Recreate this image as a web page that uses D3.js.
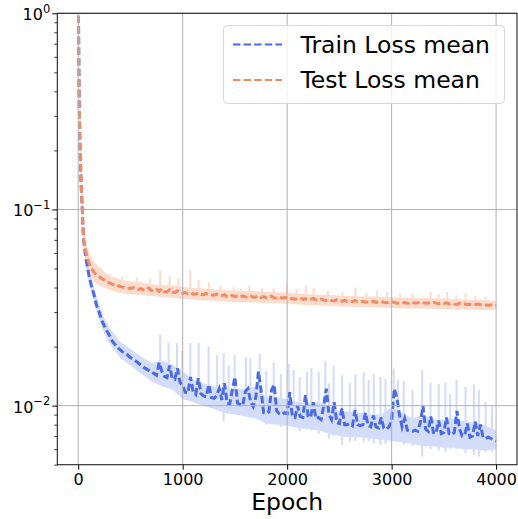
<!DOCTYPE html>
<html>
<head>
<meta charset="utf-8">
<script src="https://cdn.jsdelivr.net/npm/d3@7"></script>
<style>
  body { margin: 0; background: #fff; }
  svg { display: block; font-family: "DejaVu Sans", sans-serif; }
</style>
</head>
<body>
<div id="chart"></div>
<script>
const epochs = [0, 5, 10, 15, 20, 30, 40, 50, 60, 75].concat(d3.range(100, 4001, 25));

const trainMean = [
  1.6, 0.7, 0.34, 0.24, 0.18, 0.125, 0.098, 0.072, 0.064, 0.056,
  0.047, 0.041, 0.037, 0.0325, 0.0300, 0.0272, 0.0255, 0.0240,
  0.0228, 0.0214, 0.0206, 0.0198, 0.0193, 0.0188, 0.0184, 0.0181,
  0.0176, 0.0172, 0.0169, 0.0165, 0.0161, 0.0157, 0.0154, 0.0151,
  0.0148, 0.0146, 0.0143, 0.0166, 0.0150, 0.0141, 0.0139, 0.0160,
  0.0138, 0.0136, 0.0155, 0.0131, 0.0127, 0.0117, 0.0116, 0.0140,
  0.0118, 0.0114, 0.0138, 0.0115, 0.0112, 0.0111, 0.0128, 0.0110,
  0.0109, 0.0112, 0.0122, 0.0107, 0.0130, 0.0103, 0.0102, 0.0120,
  0.0140, 0.0103, 0.0101, 0.0100, 0.0118, 0.0122, 0.0105, 0.0099,
  0.0110, 0.0149, 0.0120, 0.0092, 0.0091, 0.0093, 0.0120, 0.0128,
  0.0094, 0.0091, 0.0090, 0.0092, 0.0091, 0.0117, 0.0088, 0.0087,
  0.0100, 0.0088, 0.0087, 0.0113, 0.0089, 0.0087, 0.0104, 0.0086,
  0.0087, 0.0085, 0.0100, 0.0122, 0.0090, 0.0085, 0.0104, 0.0082,
  0.0081, 0.0097, 0.0080, 0.0080, 0.0081, 0.0079, 0.0095, 0.0080,
  0.0079, 0.0080, 0.0092, 0.0079, 0.0078, 0.0089, 0.0078, 0.0077,
  0.0087, 0.0077, 0.0076, 0.0078, 0.0084, 0.0122, 0.0110, 0.0090,
  0.0078, 0.0086, 0.0075, 0.0074, 0.0074, 0.0075, 0.0074, 0.0082,
  0.0100, 0.0076, 0.0074, 0.0088, 0.0073, 0.0072, 0.0084, 0.0072,
  0.0073, 0.0087, 0.0072, 0.0071, 0.0073, 0.0094, 0.0076, 0.0070,
  0.0071, 0.0081, 0.0069, 0.0070, 0.0083, 0.0070, 0.0080, 0.0069,
  0.0068, 0.0069, 0.0068, 0.0067, 0.0066
];

const testMean = [
  1.6, 0.7, 0.35, 0.25, 0.19, 0.13, 0.10, 0.072, 0.066, 0.060,
  0.054, 0.050, 0.048, 0.0465, 0.0455, 0.0445, 0.0437, 0.0428,
  0.0422, 0.0416, 0.0410, 0.0412, 0.0405, 0.0402, 0.0400, 0.0398,
  0.0396, 0.0400, 0.0393, 0.0391, 0.0395, 0.0389, 0.0388, 0.0398,
  0.0386, 0.0384, 0.0392, 0.0383, 0.0395, 0.0381, 0.0380, 0.0390,
  0.0379, 0.0378, 0.0385, 0.0374, 0.0373, 0.0378, 0.0372, 0.0376,
  0.0371, 0.0370, 0.0375, 0.0369, 0.0368, 0.0373, 0.0367, 0.0366,
  0.0366, 0.0370, 0.0365, 0.0364, 0.0368, 0.0360, 0.0359, 0.0365,
  0.0359, 0.0362, 0.0358, 0.0363, 0.0358, 0.0357, 0.0362, 0.0357,
  0.0358, 0.0363, 0.0356, 0.0360, 0.0355, 0.0356, 0.0361, 0.0355,
  0.0354, 0.0357, 0.0353, 0.0356, 0.0355, 0.0350, 0.0352, 0.0349,
  0.0350, 0.0354, 0.0348, 0.0351, 0.0347, 0.0348, 0.0352, 0.0346,
  0.0346, 0.0349, 0.0345, 0.0344, 0.0347, 0.0343, 0.0342, 0.0346,
  0.0342, 0.0341, 0.0344, 0.0340, 0.0341, 0.0339, 0.0343, 0.0339,
  0.0338, 0.0340, 0.0337, 0.0338, 0.0337, 0.0341, 0.0336, 0.0338,
  0.0340, 0.0336, 0.0335, 0.0337, 0.0338, 0.0336, 0.0333, 0.0334,
  0.0333, 0.0335, 0.0333, 0.0332, 0.0336, 0.0333, 0.0334, 0.0338,
  0.0335, 0.0333, 0.0334, 0.0332, 0.0336, 0.0333, 0.0331, 0.0333,
  0.0332, 0.0334, 0.0330, 0.0331, 0.0329, 0.0328, 0.0332, 0.0329,
  0.0330, 0.0328, 0.0329, 0.0327, 0.0328, 0.0330, 0.0327, 0.0326,
  0.0326, 0.0325, 0.0326, 0.0325, 0.0324
];

// spread bands (min/max over runs), read at coarser epochs
const bandEpochs = [0, 10, 20, 30, 40, 50, 75, 100, 150, 200, 250, 300].concat(d3.range(400, 4001, 100));

const trainLo = [
  1.4, 0.32, 0.165, 0.115, 0.090, 0.066, 0.051, 0.043, 0.034, 0.0275, 0.0233, 0.0208,
  0.0176, 0.0160, 0.0146, 0.0133, 0.0126, 0.0121, 0.0108,
  0.0104, 0.0100, 0.0096, 0.0092, 0.0090, 0.0088, 0.0086, 0.0081, 0.0080, 0.0079,
  0.0077, 0.0076, 0.0075, 0.0072, 0.0070, 0.0069, 0.0069, 0.0068, 0.0067, 0.0066,
  0.0065, 0.0064, 0.0062, 0.0062, 0.0061, 0.0061, 0.0060, 0.0060, 0.0059, 0.0060
];
const trainHi = [
  1.8, 0.37, 0.195, 0.135, 0.106, 0.078, 0.061, 0.051, 0.040, 0.0328, 0.0280, 0.0250,
  0.0212, 0.0195, 0.0178, 0.0165, 0.0170, 0.0162, 0.0150,
  0.0135, 0.0130, 0.0125, 0.0122, 0.0120, 0.0122, 0.0125, 0.0110, 0.0110, 0.0108,
  0.0104, 0.0104, 0.0104, 0.0100, 0.0094, 0.0093, 0.0092, 0.0090, 0.0090, 0.0098,
  0.0092, 0.0086, 0.0090, 0.0085, 0.0085, 0.0086, 0.0083, 0.0082, 0.0079, 0.0075
];
const testLo = [
  1.4, 0.32, 0.17, 0.118, 0.090, 0.065, 0.054, 0.048, 0.043, 0.041, 0.040, 0.039,
  0.0375, 0.0370, 0.0365, 0.0362, 0.0358, 0.0355, 0.0350,
  0.0348, 0.0345, 0.0343, 0.0340, 0.0338, 0.0337, 0.0336, 0.0334, 0.0333, 0.0331,
  0.0328, 0.0326, 0.0324, 0.0322, 0.0321, 0.0320, 0.0318, 0.0317, 0.0316, 0.0315,
  0.0314, 0.0313, 0.0312, 0.0312, 0.0311, 0.0310, 0.0309, 0.0308, 0.0307, 0.0307
];
const testHi = [
  1.8, 0.38, 0.21, 0.145, 0.112, 0.082, 0.068, 0.061, 0.054, 0.051, 0.048, 0.046,
  0.0440, 0.0430, 0.0425, 0.0415, 0.0412, 0.0410, 0.0402,
  0.0398, 0.0395, 0.0392, 0.0388, 0.0385, 0.0384, 0.0383, 0.0380, 0.0378, 0.0377,
  0.0373, 0.0370, 0.0368, 0.0366, 0.0364, 0.0362, 0.0360, 0.0360, 0.0358, 0.0357,
  0.0355, 0.0354, 0.0354, 0.0353, 0.0352, 0.0350, 0.0348, 0.0347, 0.0345, 0.0343
];

// narrow excursions of the bands: [epoch, low, high]
const trainSpikes = [
  [785, 0.0130, 0.0230], [865, 0.0128, 0.0210], [945, 0.0125, 0.0208], [995, 0.0120, 0.0190],
  [1073, 0.0110, 0.0208], [1153, 0.0108, 0.0208], [1248, 0.0104, 0.0200], [1330, 0.0100, 0.0180],
  [1392, 0.0083, 0.0185], [1440, 0.0095, 0.0160], [1497, 0.0095, 0.0181], [1606, 0.0090, 0.0177],
  [1648, 0.0090, 0.0175], [1737, 0.0088, 0.0184], [1800, 0.0080, 0.0150], [1871, 0.0082, 0.0166],
  [1940, 0.0078, 0.0145], [2015, 0.0080, 0.0163], [2062, 0.0078, 0.0152], [2120, 0.0074, 0.0140],
  [2190, 0.0076, 0.0149], [2232, 0.0075, 0.0155], [2302, 0.0072, 0.0149], [2366, 0.0075, 0.0170],
  [2400, 0.0068, 0.0130], [2445, 0.0070, 0.0160], [2526, 0.0063, 0.0143], [2600, 0.0065, 0.0130],
  [2653, 0.0066, 0.0145], [2733, 0.0065, 0.0148], [2780, 0.0066, 0.0135], [2829, 0.0064, 0.0145],
  [2893, 0.0063, 0.0140], [2941, 0.0064, 0.0137], [3020, 0.0068, 0.0155], [3060, 0.0066, 0.0135],
  [3116, 0.0063, 0.0133], [3200, 0.0062, 0.0120], [3292, 0.0055, 0.0152], [3372, 0.0060, 0.0131],
  [3451, 0.0059, 0.0129], [3515, 0.0058, 0.0131], [3560, 0.0060, 0.0115], [3621, 0.0060, 0.0135],
  [3707, 0.0057, 0.0125], [3787, 0.0056, 0.0129], [3835, 0.0055, 0.0120], [3900, 0.0058, 0.0105],
  [3960, 0.0058, 0.0100]
];
const testSpikes = [
  [227, 0.043, 0.050], [300, 0.040, 0.047], [420, 0.038, 0.0455], [560, 0.037, 0.045],
  [690, 0.0365, 0.0445], [785, 0.036, 0.0487], [874, 0.036, 0.046], [960, 0.035, 0.0445],
  [1073, 0.035, 0.049], [1153, 0.0345, 0.0437], [1250, 0.0345, 0.0425], [1360, 0.034, 0.041],
  [1488, 0.034, 0.040], [1560, 0.0337, 0.0395], [1638, 0.0336, 0.041], [1760, 0.0335, 0.0395],
  [1870, 0.0333, 0.0395], [1999, 0.0331, 0.0417], [2090, 0.033, 0.0392], [2181, 0.0326, 0.041],
  [2254, 0.0325, 0.040], [2390, 0.0322, 0.0385], [2530, 0.032, 0.038], [2653, 0.0318, 0.040],
  [2760, 0.0318, 0.0378], [2861, 0.0316, 0.0388], [2957, 0.0315, 0.0380], [3080, 0.0314, 0.0372],
  [3200, 0.0313, 0.0372], [3372, 0.0312, 0.0383], [3450, 0.0311, 0.037], [3532, 0.0311, 0.038],
  [3620, 0.031, 0.0365], [3707, 0.0309, 0.0375], [3800, 0.0308, 0.0362], [3900, 0.0307, 0.036]
];

const xTicks = [0, 1000, 2000, 3000, 4000];
const yTicks = [1, 0.1, 0.01];
const yExponents = ["0", "\u22121", "\u22122"];
const yMinor = [0.9, 0.8, 0.7, 0.6, 0.5, 0.4, 0.3, 0.2, 0.09, 0.08, 0.07, 0.06, 0.05, 0.04, 0.03, 0.02,
                0.009, 0.008, 0.007, 0.006, 0.005];
const seriesNames = ["Train Loss mean", "Test Loss mean"];

const lineColors = ["#4a6be3", "#f28a62"];
const bandColors = ["#d3dcf8", "#fcdccd"];

const width = 518, height = 519;
const plot = { left: 57.3, right: 517, top: 13.3, bottom: 464.7 };

const svg = d3.select("#chart").append("svg")
  .attr("width", width)
  .attr("height", height);

const x = d3.scaleLinear().domain([-200, 4200]).range([plot.left, plot.right]);
const y = d3.scaleLog().domain([0.005, 1]).range([plot.bottom, plot.top]);

svg.append("clipPath").attr("id", "clip")
  .append("rect")
  .attr("x", plot.left).attr("y", plot.top)
  .attr("width", plot.right - plot.left).attr("height", plot.bottom - plot.top);

const body = svg.append("g").attr("clip-path", "url(#clip)");

// bands first (below the grid, like matplotlib collections)
const area = d3.area()
  .x((d, i) => x(bandEpochs[i]))
  .y0(d => y(d[0]))
  .y1(d => y(d[1]));

const bands = [
  { lo: trainLo, hi: trainHi, spikes: trainSpikes },
  { lo: testLo, hi: testHi, spikes: testSpikes }
];

bands.forEach((b, k) => {
  body.append("path")
    .datum(b.lo.map((v, i) => [v, b.hi[i]]))
    .attr("d", area)
    .attr("fill", bandColors[k]);
  body.selectAll(".spike-" + k)
    .data(b.spikes)
    .enter()
    .append("line")
    .attr("class", "spike-" + k)
    .attr("x1", d => x(d[0]))
    .attr("x2", d => x(d[0]))
    .attr("y1", d => y(d[1]))
    .attr("y2", d => y(d[2]))
    .attr("stroke", bandColors[k])
    .attr("stroke-width", 2);
});

// grid
const grid = svg.append("g");
grid.selectAll(".gx").data(xTicks).enter().append("line")
  .attr("x1", d => x(d)).attr("x2", d => x(d))
  .attr("y1", plot.top).attr("y2", plot.bottom)
  .attr("stroke", "#b0b0b0").attr("stroke-width", 1);
grid.selectAll(".gy").data(yTicks).enter().append("line")
  .attr("y1", d => y(d)).attr("y2", d => y(d))
  .attr("x1", plot.left).attr("x2", plot.right)
  .attr("stroke", "#b0b0b0").attr("stroke-width", 1);

// mean lines
const means = [trainMean, testMean];
const line = d3.line()
  .x((d, i) => x(epochs[i]))
  .y(d => y(d));

means.forEach((m, k) => {
  body.append("path")
    .datum(m)
    .attr("d", line)
    .attr("fill", "none")
    .attr("stroke", lineColors[k])
    .attr("stroke-width", 3)
    .attr("stroke-dasharray", "7.4,3.2");
});

// axes
const xAxis = svg.append("g")
  .attr("transform", `translate(0,${plot.bottom})`)
  .call(d3.axisBottom(x).tickValues(xTicks).tickSize(5).tickPadding(4).tickFormat(d3.format("d")));
xAxis.select(".domain").remove();
xAxis.selectAll("text").attr("font-size", 16).attr("fill", "#000").attr("font-family", "DejaVu Sans");
xAxis.selectAll("line").attr("stroke", "#000").attr("stroke-width", 1);

const yMinorAxis = svg.append("g")
  .attr("transform", `translate(${plot.left},0)`)
  .call(d3.axisLeft(y).tickValues(yMinor).tickSize(3).tickFormat(""));
yMinorAxis.select(".domain").remove();
yMinorAxis.selectAll("line").attr("stroke", "#000").attr("stroke-width", 0.8);

const yAxis = svg.append("g")
  .attr("transform", `translate(${plot.left},0)`)
  .call(d3.axisLeft(y).tickValues(yTicks).tickSize(5).tickPadding(5).tickFormat(""));
yAxis.select(".domain").remove();
yAxis.selectAll("line").attr("stroke", "#000").attr("stroke-width", 1);
yAxis.selectAll(".tick text").each(function(d, i) {
  const t = d3.select(this)
    .attr("font-size", 16)
    .attr("fill", "#000")
    .attr("font-family", "DejaVu Sans")
    .attr("x", -7)
    .attr("dy", "0.4em");
  t.append("tspan").text("10");
  t.append("tspan").attr("dy", "-0.62em").attr("font-size", 11.5).text(yExponents[i]);
});

// frame
svg.append("rect")
  .attr("x", plot.left).attr("y", plot.top)
  .attr("width", plot.right - plot.left).attr("height", plot.bottom - plot.top)
  .attr("fill", "none")
  .attr("stroke", "#222")
  .attr("stroke-width", 1.1);

svg.append("text")
  .attr("x", (plot.left + plot.right) / 2)
  .attr("y", 510)
  .attr("text-anchor", "middle")
  .attr("font-size", 23.5)
  .text("Epoch");

// legend
const legend = svg.append("g");
legend.append("rect")
  .attr("x", 223.5).attr("y", 25.5)
  .attr("width", 281).attr("height", 78)
  .attr("rx", 4)
  .attr("fill", "#fff").attr("fill-opacity", 0.8)
  .attr("stroke", "#d6d6d6").attr("stroke-width", 1);

const rows = legend.selectAll(".row")
  .data(seriesNames)
  .enter()
  .append("g")
  .attr("transform", (d, i) => `translate(0,${44.5 + i * 35.5})`);
rows.append("line")
  .attr("x1", 233).attr("x2", 282)
  .attr("stroke", (d, i) => lineColors[i])
  .attr("stroke-width", 2)
  .attr("stroke-dasharray", "7.4,3.2");
rows.append("text")
  .attr("x", 300.5)
  .attr("dy", "0.36em")
  .attr("font-size", 23.5)
  .text(d => d);
</script>
</body>
</html>
